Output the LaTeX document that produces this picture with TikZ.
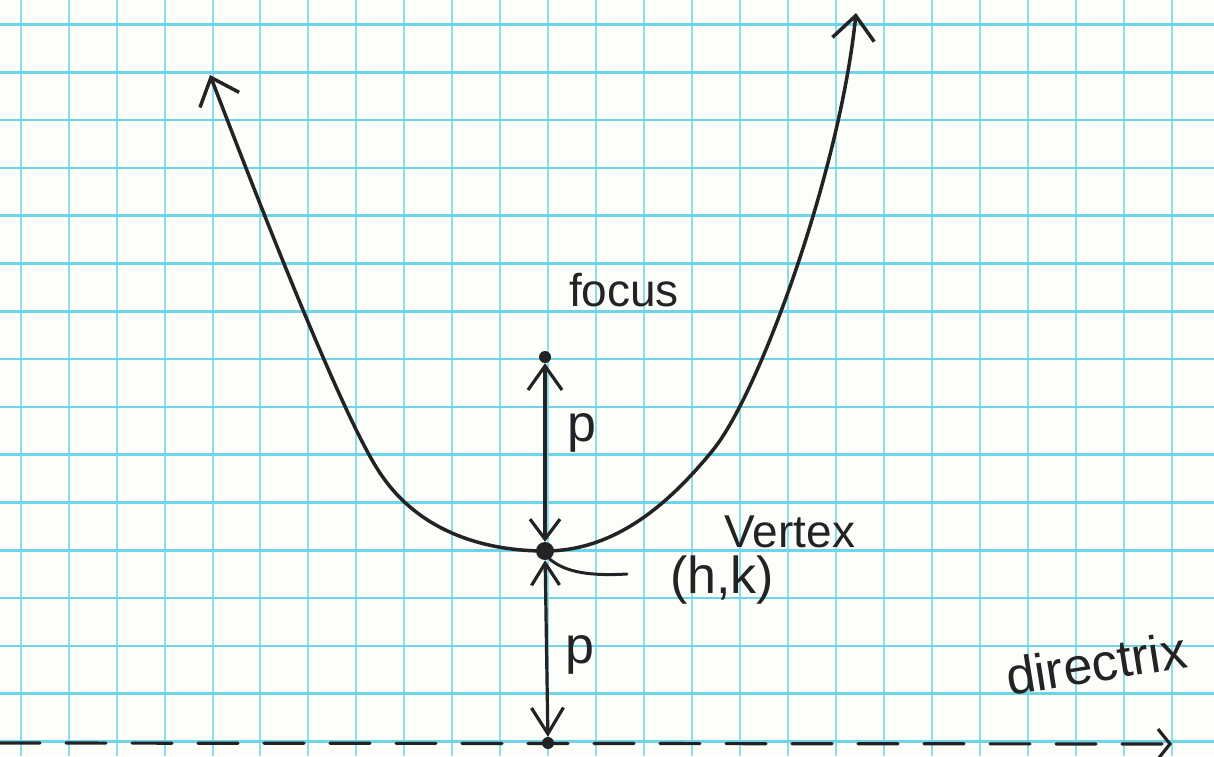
\documentclass[tikz,border=0pt]{standalone}
\usepackage{fontspec}
\setmainfont{Liberation Sans}
\usetikzlibrary{arrows.meta}
\definecolor{gridH}{RGB}{112,212,232}
\definecolor{gridV}{RGB}{140,222,236}
\definecolor{paper}{RGB}{252,254,250}
\definecolor{ink}{RGB}{35,35,38}
\begin{document}
\begin{tikzpicture}[x=1pt,y=-1pt,
  inkline/.style={draw=ink, line width=3.5pt, line cap=round, line join=round},
  dot/.style={circle, fill=ink, draw=none, inner sep=0pt},
  lbl/.style={text=ink, inner sep=0pt, font=\fontsize{46}{50}\selectfont},
  biglbl/.style={text=ink, inner sep=0pt, font=\fontsize{52}{56}\selectfont}]
\fill[paper] (0,0) rectangle (1214,756);
\useasboundingbox (0,0) rectangle (1214,756);
% grid
\foreach \k in {0,...,24} \draw[gridV, line width=2pt] ({20.7+47.95*\k},0) -- ({20.7+47.95*\k},756);
\foreach \k in {0,...,15} \draw[gridH, line width=2.6pt] (0,{24.5+47.8*\k}) -- (1214,{24.5+47.8*\k});
% key points
\coordinate (Vc) at (545,551);
\coordinate (Lmid) at (380,473);
\coordinate (Ltip) at (210,75);
\coordinate (Rmid) at (713,450);
\coordinate (Rtip) at (856,13);
% parabola
\draw[inkline, {Straight Barb[length=24pt,width=42pt]}-{Straight Barb[length=24pt,width=42pt]}]
  (Ltip) .. controls (253,187) and (341,415) .. (Lmid)
  .. controls (421,535) and (490,551) .. (Vc)
  .. controls (615,551) and (669,504) .. (Rmid)
  .. controls (760,392) and (840,170) .. (Rtip);
\node[dot, minimum size=18pt] (V) at (Vc) {};
\node[dot, minimum size=12pt] (F) at (545,357) {};
\node[dot, minimum size=12pt] (D) at (548,743) {};
% distances p
\draw[inkline, line width=3.2pt, {Straight Barb[length=20pt,width=30pt]}-{Straight Barb[length=24pt,width=34pt]}] (V) -- (F);
\draw[inkline, line width=3.2pt, {Straight Barb[length=22pt,width=28pt]}-{Straight Barb[length=26pt,width=32pt]}] (V) -- (D);
% directrix
\coordinate (dl) at (0,743);
\coordinate (dr) at (1172,744);
\draw[inkline, line width=3.2pt, dash pattern=on 40pt off 26pt, -{Straight Barb[length=12pt,width=30pt]}] (dl) -- (dr);
% labels
\node[lbl] (focuslbl) at (624,290) {focus};
\node[biglbl] (p1) at (582,433) {p};
\node[biglbl] (p2) at (580,655) {p};
\node[lbl] (vertexlbl) at (790,532) {Vertex};
\node[biglbl] (hk) at (722,580) {(h,k)};
\node[biglbl, rotate=9] (dirlbl) at (1096,663) {directrix};
% pointer from (h,k) to vertex
\coordinate (hkp) at (627,574);
\draw[inkline, line width=3pt] (hkp) .. controls (592,576) and (566,573) .. (V.-60);
\end{tikzpicture}
\end{document}
